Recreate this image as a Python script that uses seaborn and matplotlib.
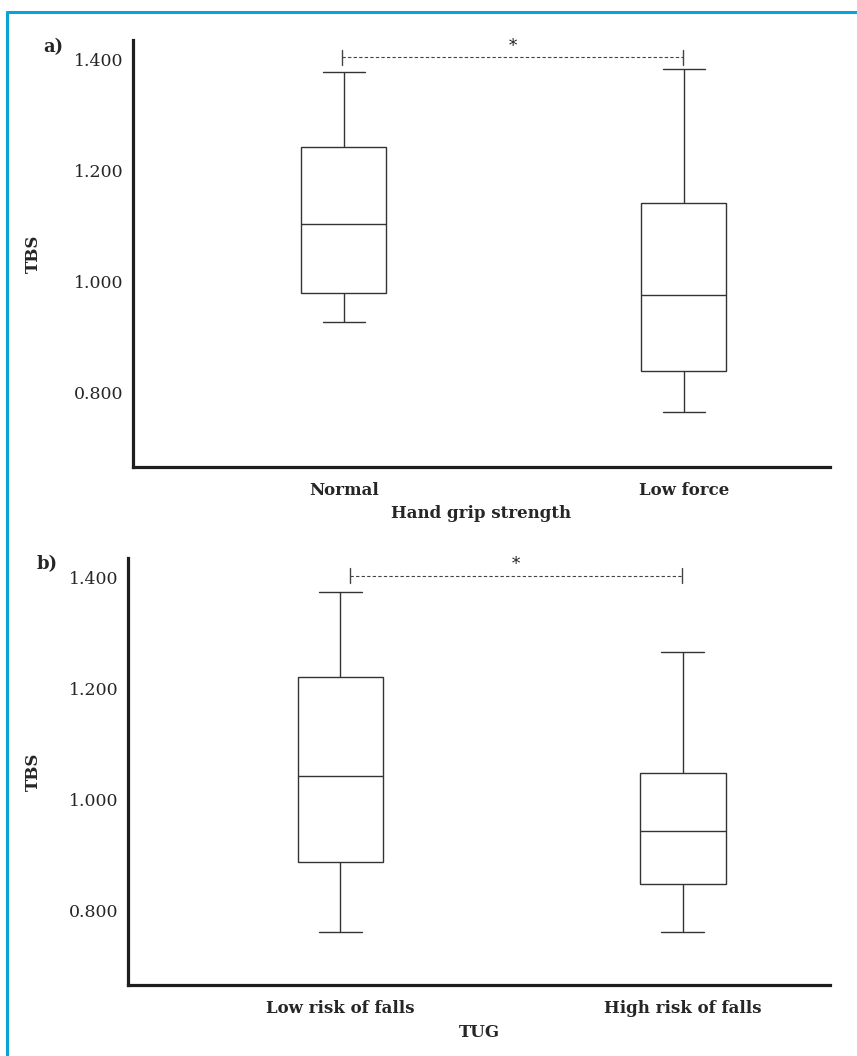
import pandas as pd
import matplotlib
matplotlib.use("Agg")
import matplotlib.pyplot as plt
import seaborn as sns
from matplotlib.lines import Line2D

# five-number summaries: min, q1, median, q3, max
grip_groups = ["Normal", "Low force"]
grip_normal = [0.926, 0.980, 1.103, 1.242, 1.378]
grip_low = [0.764, 0.838, 0.975, 1.142, 1.384]

tug_groups = ["Low risk of falls", "High risk of falls"]
tug_low = [0.760, 0.887, 1.043, 1.222, 1.375]
tug_high = [0.761, 0.848, 0.943, 1.048, 1.266]

y_ticks = [0.8, 1.0, 1.2, 1.4]
y_tick_labels = ["0.800", "1.000", "1.200", "1.400"]

# significance brackets (level, start, end)
grip_sig = (1.405, -0.005, 0.997)
tug_sig = (1.404, 0.028, 0.998)


def make_frame(groups, first, second):
    rows = [(groups[0], v) for v in first] + [(groups[1], v) for v in second]
    return pd.DataFrame(rows, columns=["group", "TBS"])


def draw_panel(ax, df, groups, sig, xlabel):
    sns.boxplot(data=df, x="group", y="TBS", order=groups, whis=(0, 100),
                width=0.25, color="white", linecolor="#333333", linewidth=1.0,
                showfliers=False, ax=ax)

    ax.set_ylim(0.665, 1.436)
    ax.set_xlim(-0.62, 1.43)
    ax.set_yticks(y_ticks)
    ax.set_yticklabels(y_tick_labels, fontsize=12.5)
    ax.set_xticks([0, 1])
    ax.set_xticklabels(groups, fontsize=12, fontweight="bold")
    ax.tick_params(axis="y", length=0, pad=7)
    ax.tick_params(axis="x", length=0, pad=11)
    ax.set_xlabel("")
    ax.set_ylabel("")

    for side in ["top", "right"]:
        ax.spines[side].set_visible(False)
    for side in ["left", "bottom"]:
        ax.spines[side].set_linewidth(2.3)
        ax.spines[side].set_color("#1e1e1e")

    # dashed significance bracket with star
    level, x0, x1 = sig
    ax.plot([x0, x1], [level, level], ls=(0, (3, 2)), lw=0.8, color="#444444")
    for x in (x0, x1):
        ax.plot([x, x], [level - 0.0135, level + 0.0135], lw=1.0, color="#444444")
    ax.text((x0 + x1) / 2, level + 0.004, "*", ha="center", va="bottom",
            fontsize=12, color="#222222")


sns.set_style("white")
plt.rcParams["font.family"] = ["DejaVu Serif"]

fig = plt.figure(figsize=(8.57, 10.56), dpi=100)
ax_a = fig.add_axes([0.1552, 0.5578, 0.8133, 0.4043])
ax_b = fig.add_axes([0.1494, 0.0672, 0.8191, 0.4044])

draw_panel(ax_a, make_frame(grip_groups, grip_normal, grip_low), grip_groups,
           grip_sig, "Hand grip strength")
draw_panel(ax_b, make_frame(tug_groups, tug_low, tug_high), tug_groups,
           tug_sig, "TUG")

# axis titles and panel letters
fig.text(0.561, 0.5142, "Hand grip strength", ha="center", va="center",
         fontsize=12, fontweight="bold")
fig.text(0.559, 0.0218, "TUG", ha="center", va="center",
         fontsize=12, fontweight="bold")
fig.text(0.0385, 0.760, "TBS", rotation=90, ha="center", va="center",
         fontsize=12, fontweight="bold")
fig.text(0.0385, 0.269, "TBS", rotation=90, ha="center", va="center",
         fontsize=12, fontweight="bold")
fig.text(0.050, 0.9555, "a)", ha="left", va="center", fontsize=13, fontweight="bold")
fig.text(0.043, 0.466, "b)", ha="left", va="center", fontsize=13, fontweight="bold")

# cyan frame (top and left edges)
frame_color = "#0aa3d6"
fig.add_artist(Line2D([0.0085, 1.0], [0.9891, 0.9891], lw=2.2, color=frame_color,
                      transform=fig.transFigure))
fig.add_artist(Line2D([0.0085, 0.0085], [0.0, 0.9891], lw=2.2, color=frame_color,
                      transform=fig.transFigure))

fig.savefig("out.png", dpi=100)
